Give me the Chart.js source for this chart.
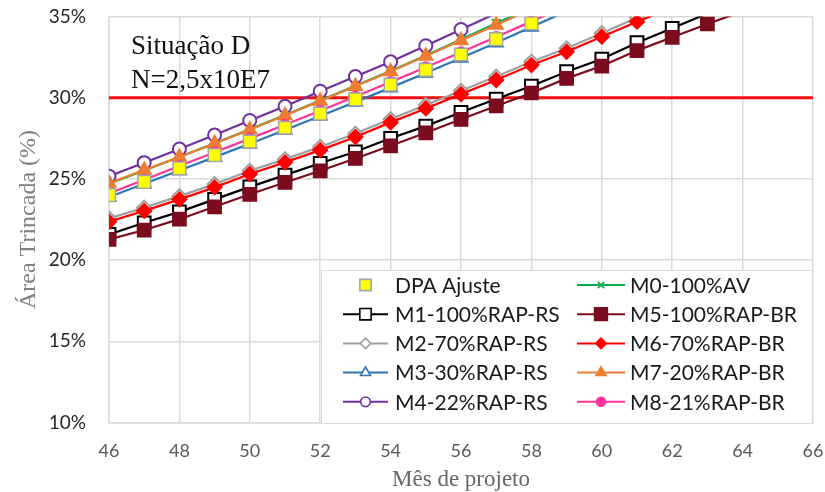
<!DOCTYPE html>
<html>
<head>
<meta charset="utf-8">
<script src="https://cdn.jsdelivr.net/npm/chart.js@4/dist/chart.umd.min.js"></script>
<style>
  html, body { margin: 0; padding: 0; background: #fff; }
</style>
</head>
<body>
<canvas id="chart" width="825" height="492"></canvas>
<script>
// months on the x axis (each series starts at month 46)
const months = [46, 47, 48, 49, 50, 51, 52, 53, 54, 55, 56, 57, 58, 59, 60, 61, 62, 63, 64];

// cracked area (%) per series
const dpaAjuste = [24.00, 24.82, 25.65, 26.47, 27.30, 28.15, 29.02, 29.90, 30.80, 31.72, 32.66, 33.60, 34.58];
const m0 = [24.70, 25.52, 26.35, 27.20, 28.05, 28.93, 29.83, 30.73, 31.64, 32.60, 33.58, 34.58, 35.55];
const m1 = [21.58, 22.30, 22.97, 23.74, 24.51, 25.23, 25.96, 26.67, 27.50, 28.25, 29.10, 29.92, 30.72, 31.60, 32.38, 33.39, 34.27, 35.19];
const m2 = [22.56, 23.23, 23.94, 24.68, 25.50, 26.22, 26.97, 27.79, 28.68, 29.55, 30.43, 31.30, 32.22, 33.04, 33.97, 34.92, 35.80];
const m3 = [23.88, 24.70, 25.52, 26.34, 27.17, 28.01, 28.87, 29.74, 30.62, 31.52, 32.44, 33.38, 34.36, 35.32];
const m4 = [25.17, 26.00, 26.84, 27.70, 28.60, 29.47, 30.40, 31.30, 32.21, 33.20, 34.20, 35.20];
const m5 = [21.27, 21.85, 22.52, 23.28, 24.05, 24.78, 25.50, 26.26, 27.04, 27.84, 28.67, 29.49, 30.29, 31.19, 31.95, 32.90, 33.72, 34.54, 35.32];
const m6 = [22.36, 23.03, 23.74, 24.48, 25.30, 26.02, 26.77, 27.58, 28.48, 29.34, 30.22, 31.09, 32.01, 32.83, 33.76, 34.68, 35.55];
const m7 = [24.74, 25.55, 26.35, 27.18, 28.03, 28.90, 29.80, 30.70, 31.62, 32.57, 33.52, 34.48, 35.45];
const m8 = [24.10, 24.95, 25.80, 26.64, 27.48, 28.33, 29.20, 30.08, 30.97, 31.88, 32.80, 33.74, 34.70, 35.65];

// 30% limit line
const limitMonths = [46, 66];
const limitValues = [30, 30];

const yTicks = [10, 15, 20, 25, 30, 35];
const yMax = 35;

function toPoints(xs, ys) {
    return ys.map((v, i) => ({ x: xs[i], y: v }));
}

function series(label, values, color, style, radius, legendRadius, filled, order, extra) {
    return Object.assign({
        label: label,
        data: toPoints(months, values),
        borderColor: color,
        backgroundColor: color,
        borderWidth: 2.2,
        pointStyle: style,
        legendRadius: legendRadius,
        // Excel hides markers that fall above the axis maximum
        pointRadius: c => (c.raw && c.raw.y > yMax ? 0 : radius),
        pointBorderColor: color,
        pointBackgroundColor: filled ? color : '#ffffff',
        pointBorderWidth: 2,
        order: order,
        clip: 0,
        tension: 0
    }, extra || {});
}

const datasets = [
    series('DPA Ajuste', dpaAjuste, '#ffff00', 'rect', 9, 8, true, 0,
        { showLine: false, pointBorderColor: '#a5a5a5', pointBorderWidth: 1.5 }),
    series('M0-100%AV', m0, '#00b050', 'crossRot', 6, 4.5, true, 9),
    series('M1-100%RAP-RS', m1, '#000000', 'rect', 9, 8, false, 8),
    series('M5-100%RAP-BR', m5, '#7b0c1e', 'rect', 9, 9, true, 4),
    series('M2-70%RAP-RS', m2, '#a0a0a0', 'rectRot', 7, 5.2, false, 7),
    series('M6-70%RAP-BR', m6, '#ff0000', 'rectRot', 7, 5.2, true, 3),
    series('M3-30%RAP-RS', m3, '#2e75b6', 'triangle', 7.5, 5.8, false, 6),
    series('M7-20%RAP-BR', m7, '#ed7d31', 'triangle', 7.5, 5.8, true, 2),
    series('M4-22%RAP-RS', m4, '#7030a0', 'circle', 6.5, 4.8, false, 5),
    series('M8-21%RAP-BR', m8, '#ff3399', 'circle', 5, 4.5, true, 1),
    {
        label: 'limite',
        data: toPoints(limitMonths, limitValues),
        borderColor: '#f01010',
        borderWidth: 3,
        pointRadius: 0,
        order: 10,
        clip: 0
    }
];

// two-column legend box inside the plot, like the Excel original
const boxLegend = {
    id: 'boxLegend',
    afterDraw(chart) {
        const ctx = chart.ctx;
        const left = 321, top = 270, right = 812, bottom = 423;
        ctx.save();
        ctx.fillStyle = '#ffffff';
        ctx.fillRect(left, top, right - left, bottom - top);
        ctx.strokeStyle = '#d9d9d9';
        ctx.lineWidth = 1;
        ctx.strokeRect(left + 0.5, top + 0.5, right - left, bottom - top);

        const cols = [{ x0: 343, x1: 388, tx: 395 }, { x0: 577, x1: 625, tx: 630 }];
        ctx.font = '21px Lato';
        ctx.textBaseline = 'middle';
        ctx.textAlign = 'left';
        const items = chart.data.datasets.filter(d => d.label !== 'limite');
        items.forEach((ds, i) => {
            const col = cols[i % 2];
            const y = 285 + Math.floor(i / 2) * 29.2;
            const cx = (col.x0 + col.x1) / 2;
            if (ds.showLine !== false) {
                ctx.strokeStyle = ds.borderColor;
                ctx.lineWidth = 2;
                ctx.beginPath();
                ctx.moveTo(col.x0, y);
                ctx.lineTo(col.x1, y);
                ctx.stroke();
            }
            ctx.fillStyle = ds.pointBackgroundColor;
            ctx.strokeStyle = ds.pointBorderColor;
            ctx.lineWidth = 1.6;
            Chart.helpers.drawPoint(ctx, {
                pointStyle: ds.pointStyle,
                radius: ds.legendRadius,
                rotation: 0,
                borderWidth: 1.6
            }, cx, y);
            ctx.fillStyle = '#1a1a1a';
            ctx.fillText(ds.label, col.tx, y + 1);
        });
        ctx.restore();
    }
};

const situationText = {
    id: 'situationText',
    afterDraw(chart) {
        const ctx = chart.ctx;
        ctx.save();
        ctx.font = '27px "Liberation Serif"';
        ctx.fillStyle = '#111111';
        ctx.textAlign = 'left';
        ctx.textBaseline = 'alphabetic';
        ctx.fillText('Situação D', 131, 54);
        ctx.fillText('N=2,5x10E7', 131, 88);
        ctx.restore();
    }
};

new Chart(document.getElementById('chart'), {
    type: 'line',
    data: { datasets: datasets },
    options: {
        responsive: false,
        animation: false,
        layout: { padding: { top: 16.5, right: 12, left: 0, bottom: 0 } },
        plugins: {
            legend: { display: false },
            tooltip: { enabled: false }
        },
        scales: {
            x: {
                type: 'linear',
                min: 46,
                max: 66,
                afterFit: s => {
                    s.height = 69.5;
                    s.paddingLeft = 0;
                    s.paddingRight = 0;
                },
                ticks: {
                    stepSize: 2,
                    padding: 18,
                    color: '#595959',
                    font: { family: 'Lato', size: 18 }
                },
                grid: { color: '#d9d9d9', lineWidth: 1.5, drawTicks: false },
                border: { color: '#d9d9d9', width: 1.5 },
                title: {
                    display: true,
                    text: 'Mês de projeto',
                    color: '#666666',
                    font: { family: 'Liberation Serif', size: 23 },
                    padding: { top: 0, bottom: -2 }
                }
            },
            y: {
                min: 10,
                max: yMax,
                afterFit: s => {
                    s.width = 109;
                    s.paddingTop = 0;
                    s.paddingBottom = 0;
                },
                afterBuildTicks: s => { s.ticks = yTicks.map(v => ({ value: v })); },
                ticks: {
                    padding: 23,
                    color: '#262626',
                    font: { family: 'Lato', size: 19 },
                    callback: v => v + '%'
                },
                grid: { color: '#d9d9d9', lineWidth: 1.5, drawTicks: false },
                border: { color: '#d9d9d9', width: 1.5 },
                title: {
                    display: true,
                    text: 'Área Trincada (%)',
                    color: '#808080',
                    font: { family: 'Liberation Serif', size: 24 },
                    padding: { top: 14, bottom: 0 }
                }
            }
        }
    },
    plugins: [boxLegend, situationText]
});
</script>
</body>
</html>
